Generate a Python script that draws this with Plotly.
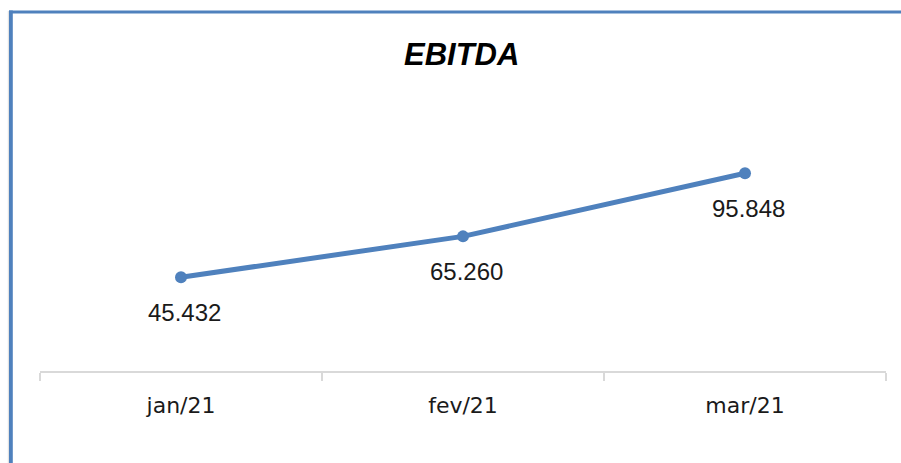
import plotly.graph_objects as go

categories = ["jan/21", "fev/21", "mar/21"]
ebitda = [45.432, 65.260, 95.848]
labels = ["45.432", "65.260", "95.848"]
title_text = "EBITDA"

W, H = 901, 463
BLUE = "#4f81bd"

fig = go.Figure()
fig.add_trace(go.Scatter(
    x=categories, y=ebitda, mode="lines+markers",
    line=dict(color=BLUE, width=5),
    marker=dict(color=BLUE, size=12),
    hoverinfo="skip", showlegend=False,
))

for c, v, t in zip(categories, ebitda, labels):
    fig.add_annotation(x=c, y=v, text=t, showarrow=False, xshift=3, yshift=-35,
                       font=dict(family="Liberation Sans", size=24, color="#1a1a1a"))

fig.add_annotation(x=461.7 / W, y=1 - 54.5 / H, xref="paper", yref="paper",
                   text="<b><i>" + title_text + "</i></b>", showarrow=False,
                   xanchor="center", yanchor="middle",
                   font=dict(family="Liberation Sans", size=31, color="#000000"))

# chart border (top and left edges visible)
fig.add_shape(type="rect", xref="paper", yref="paper", x0=9 / W, x1=1, y0=1 - 13.6 / H, y1=1 - 10.6 / H,
              fillcolor=BLUE, line=dict(width=0), layer="above")
fig.add_shape(type="rect", xref="paper", yref="paper", x0=9 / W, x1=12.8 / W, y0=0, y1=1 - 10.6 / H,
              fillcolor=BLUE, line=dict(width=0), layer="above")
fig.add_shape(type="rect", xref="paper", yref="paper", x0=7.8 / W, x1=9 / W, y0=0, y1=1 - 11 / H,
              fillcolor="#e3e3e3", line=dict(width=0), layer="above")

y_bottom_px, y_top_px = 371, 371 - 120 * 2.063
fig.update_layout(
    width=W, height=H,
    margin=dict(l=0, r=0, t=0, b=0),
    paper_bgcolor="white", plot_bgcolor="white",
    hovermode=False,
    xaxis=dict(
        domain=[40 / W, 886 / W], type="category", range=[-0.5, 2.5],
        showline=True, linecolor="#d9d9d9", linewidth=1.5,
        ticks="outside", tickson="boundaries", ticklen=8, tickcolor="#d9d9d9", tickwidth=1.5,
        showgrid=False, zeroline=False,
        tickfont=dict(family="DejaVu Sans", size=22, color="#1a1a1a"),
        ticklabelstandoff=14,
    ),
    yaxis=dict(
        domain=[1 - y_bottom_px / H, 1 - y_top_px / H], range=[0, 120],
        visible=False, showgrid=False, zeroline=False,
    ),
)

fig.write_html("out.html", config={"displayModeBar": False},
               post_script="document.body.style.margin='0';")
